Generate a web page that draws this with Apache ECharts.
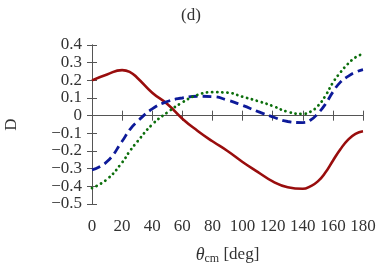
<!DOCTYPE html>
<html><head><meta charset="utf-8">
<script src="https://cdn.jsdelivr.net/npm/echarts@6/dist/echarts.min.js"></script>
<style>html,body{margin:0;padding:0;background:#fff}#c{width:382px;height:269px}</style>
</head><body><div id="c"></div>
<script>
var angles      = [0,     10,    20,    25,    30,    40,    50,    60,    70,    80,    90,    100,   110,   120,   130,   140,   145,   150,   155,   160,   165,   170,   175,   180];
var solidRed    = [0.20,  0.233, 0.258, 0.248, 0.215, 0.13,  0.066,-0.017,-0.085,-0.145,-0.20, -0.262,-0.318,-0.372,-0.405,-0.414,-0.40, -0.372,-0.322,-0.255,-0.19, -0.137,-0.103,-0.088];
var dashedBlue  = [-0.307,-0.26,-0.145,-0.08, -0.034, 0.038, 0.08,  0.10,  0.11,  0.108, 0.088, 0.058, 0.024,-0.007,-0.033,-0.039,-0.026, 0.012, 0.065, 0.134, 0.19,  0.222, 0.246, 0.26];
var dottedGreen = [-0.41,-0.36, -0.265,-0.202,-0.148,-0.05,  0.018, 0.075, 0.117, 0.133, 0.13,  0.107, 0.083, 0.055, 0.022, 0.01,  0.022, 0.055, 0.112, 0.187, 0.245, 0.293, 0.33,  0.35];
var xTicks = {min:0, max:180, step:20};
var yTicks = {min:-0.5, max:0.4, step:0.1};

function pairs(ys){ return angles.map(function(a,i){ return [a, ys[i]]; }); }
var font = 'Liberation Serif';
var txt = '#333';
var axisCol = '#555';
function yfmt(v){ var r = Math.round(v*10)/10; if (r===0) return '0'; return r.toFixed(1).replace('-', '\u2212'); }

var chart = echarts.init(document.getElementById('c'));
chart.setOption({
  animation:false,
  title:{text:'(d)', left:'center', top:7, textStyle:{fontFamily:font, fontWeight:'normal', fontSize:17, color:txt}, padding:0, itemGap:0},
  grid:{left:92, right:19, top:45, bottom:65, containLabel:false, outerBoundsMode:'none'},
  xAxis:[{
    type:'value', min:xTicks.min, max:xTicks.max, interval:xTicks.step,
    axisLine:{lineStyle:{color:axisCol, width:1}},
    axisTick:{inside:true, length:5, lineStyle:{color:axisCol}},
    axisLabel:{fontFamily:font, fontSize:17, color:txt, margin:14},
    splitLine:{show:false},
    name:'{t|θ}{s|cm} {n|[deg]}', nameLocation:'middle', nameGap:41,
    nameTextStyle:{fontFamily:font, fontSize:17, color:txt, rich:{
      t:{fontFamily:font, fontStyle:'italic', fontSize:18, color:txt},
      s:{fontFamily:font, fontSize:12, color:txt, padding:[8,0,0,0]},
      n:{fontFamily:font, fontSize:17, color:txt}
    }}
  },{
    type:'value', position:'top', min:xTicks.min, max:xTicks.max, interval:xTicks.step,
    axisLine:{show:true, lineStyle:{color:axisCol}},
    axisTick:{inside:true, length:5, lineStyle:{color:axisCol}},
    axisLabel:{show:false}, splitLine:{show:false}
  }],
  yAxis:[{
    type:'value', min:yTicks.min, max:yTicks.max, interval:yTicks.step,
    axisLine:{show:true, lineStyle:{color:axisCol}},
    axisTick:{show:true, inside:true, length:5, lineStyle:{color:axisCol}},
    axisLabel:{fontFamily:font, fontSize:17, color:txt, margin:10, formatter:yfmt},
    splitLine:{show:false},
    name:'D', nameLocation:'middle', nameGap:72, nameRotate:90,
    nameTextStyle:{fontFamily:font, fontSize:17, color:txt}
  },{
    type:'value', position:'right', min:yTicks.min, max:yTicks.max, interval:yTicks.step,
    axisLine:{show:true, lineStyle:{color:axisCol}},
    axisTick:{show:true, inside:true, length:5, lineStyle:{color:axisCol}},
    axisLabel:{show:false}, splitLine:{show:false}
  }],
  series:[
    {type:'line', data:pairs(solidRed), smooth:0.5, showSymbol:false, lineStyle:{color:'#990d0d', width:2.6}},
    {type:'line', data:pairs(dashedBlue), smooth:0.5, showSymbol:false, lineStyle:{color:'#0d1a99', width:2.8, type:[9,5]}},
    {type:'line', data:pairs(dottedGreen), smooth:0.5, showSymbol:false, lineStyle:{color:'#0b6e0b', width:2.8, type:[0.1,5], cap:'round'}}
  ]
});
</script></body></html>
